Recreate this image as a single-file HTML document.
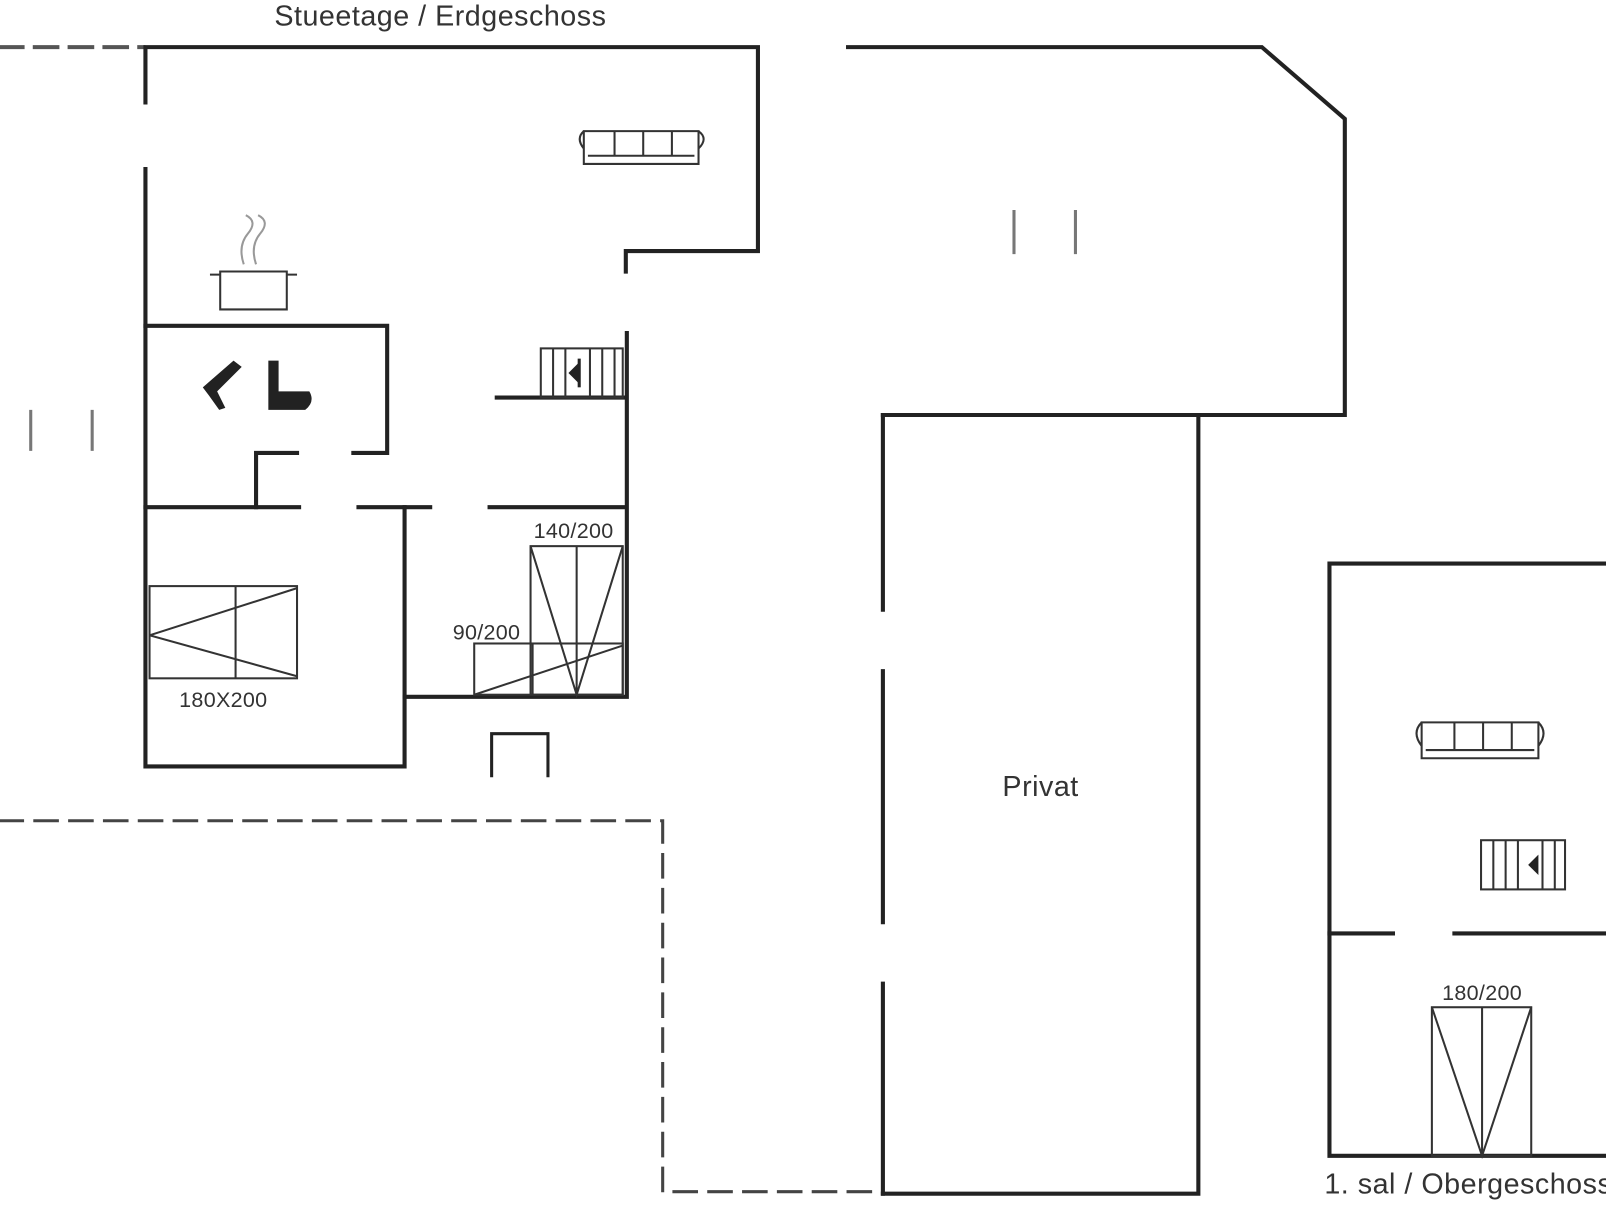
<!DOCTYPE html>
<html><head><meta charset="utf-8"><style>
html,body{margin:0;padding:0;background:#fff;}
svg{display:block;}
text{font-family:"Liberation Sans",sans-serif;fill:#333;}
</style></head><body>
<svg width="1606" height="1205" viewBox="0 0 1568 1176" preserveAspectRatio="none" xmlns="http://www.w3.org/2000/svg">
<rect width="1568" height="1176" fill="#fff"/>
<g fill="none" stroke="#222" stroke-width="4" stroke-linecap="square">
<path d="M0,46 H140" stroke="#555" stroke-dasharray="22,12"/>
<path d="M0,801 H647 V1163 H860" stroke="#444" stroke-width="3" stroke-dasharray="22,12"/>
<path d="M142,100 V46 H740 V245 H611 V265"/>
<path d="M142,165 V748 H395 V680 H612 V325"/>
<path d="M142,318 H378 V442 H345"/>
<path d="M250,495 V442 H290"/>
<path d="M142,495 H292 M350,495 H420 M478,495 H610"/>
<path d="M395,495 V680"/>
<path d="M485,388 H610"/>
<path d="M480,757 V716 H535 V757" stroke-width="3"/>
<path d="M828,46 H1232 L1313,116 V405 H1170"/>
<path d="M862,405 H1170 V1165 H862"/>
<path d="M862,405 V595 M862,655 V900 M862,960 V1165"/>
<path d="M1568,550 H1298 V1128 H1568"/>
<path d="M1298,911 H1360 M1420,911 H1568"/>
</g>
<g stroke="#777" stroke-width="3">
<path d="M990,205 V248 M1050,205 V248 M30,400 V440 M90,400 V440"/>
</g>
<g fill="none" stroke="#333" stroke-width="2">
<rect x="146" y="572" width="144" height="90"/>
<path d="M146,620 L290,574 M146,620 L290,660 M230,572 V662"/>
<rect x="518" y="533" width="90" height="145"/>
<path d="M518,533 L563,678 L608,533 M563,533 V678"/>
<rect x="463" y="628" width="145" height="50"/>
<path d="M463,678 L608,630 M520,628 V678"/>
<rect x="1398" y="983" width="97" height="145"/>
<path d="M1398,983 L1447,1128 L1495,983 M1447,983 V1128"/>
<rect x="528" y="340" width="80" height="48"/>
<path d="M540,340 V388 M552,340 V388 M576,340 V388 M588,340 V388 M600,340 V388"/>
<rect x="1446" y="820" width="82" height="48"/>
<path d="M1458,820 V868 M1470,820 V868 M1482,820 V868 M1506,820 V868 M1518,820 V868"/>
<path d="M570,128 H682 V160 H570 Z M570,128 Q562,135 570,145 M682,128 Q692,135 682,145 M600,128 V152 M628,128 V152 M656,128 V152 M574,152 H678"/>
<path d="M1388,705 H1502 V740 H1388 Z M1388,705 Q1378,715 1388,728 M1502,705 Q1512,715 1502,728 M1420,705 V732 M1448,705 V732 M1476,705 V732 M1392,732 H1498"/>
<path d="M215,265 H280 V302 H215 Z M205,268 H215 M280,268 H290"/>
<path d="M238,258 Q232,240 242,228 T240,210 M250,258 Q244,240 254,228 T252,210" stroke="#999"/>
</g>
<g fill="#222" stroke="none">
<path d="M555,364 L565,354 V374 Z"/><rect x="564" y="350" width="3" height="28"/>
<path d="M1492,844 L1502,834 V854 Z"/>
<path d="M198,378 L228,352 L236,358 L212,382 L220,398 L214,400 L204,386 Z"/>
<path d="M262,352 H272 V382 H302 Q308,392 298,400 H262 Z"/>
</g>
<g font-size="28" letter-spacing="0.5">
<text x="430" y="25" text-anchor="middle" fill="#444">Stueetage / Erdgeschoss</text>
<text x="1293" y="1165" fill="#333">1. sal / Obergeschoss</text>
<text x="1016" y="777" text-anchor="middle">Privat</text>
</g>
<g font-size="21" letter-spacing="0.3">
<text x="218" y="690" text-anchor="middle">180X200</text>
<text x="560" y="525" text-anchor="middle">140/200</text>
<text x="475" y="624" text-anchor="middle">90/200</text>
<text x="1447" y="976" text-anchor="middle">180/200</text>
</g>
</svg>
</body></html>
